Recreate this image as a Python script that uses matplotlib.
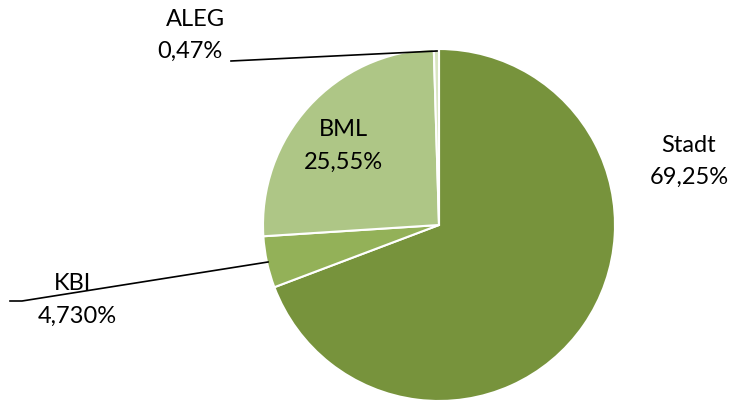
import numpy as np
import matplotlib.pyplot as plt

# Anteile der Finanzierung (in %)
labels = ["Stadt", "KBI", "BML", "ALEG"]
values = [69.25, 4.73, 25.55, 0.47]
value_text = ["69,25%", "4,730%", "25,55%", "0,47%"]
colors = ["#77933C", "#93B158", "#AEC686", "#D9E5C1"]

plt.rcParams['font.family'] = ['Lato', 'DejaVu Sans']

W, H = 730, 405
fig = plt.figure(figsize=(W / 100, H / 100), dpi=100)
ax = fig.add_axes([0, 0, 1, 1])
ax.set_xlim(0, W)
ax.set_ylim(0, H)
ax.set_aspect('equal')
ax.axis('off')

cx, cy, r = 439, H - 225, 176
wedges, _ = ax.pie(values, colors=colors, startangle=90, counterclock=False,
                   center=(cx, cy), radius=r,
                   wedgeprops=dict(edgecolor='white', linewidth=1.5))
ax.set_xlim(0, W)
ax.set_ylim(0, H)

fs = 17
# Stadt
ax.text(689, H - 145, labels[0], ha='center', va='center', fontsize=fs)
ax.text(689, H - 177, value_text[0], ha='center', va='center', fontsize=fs)
# BML (inside)
ax.text(343, H - 130, labels[2], ha='center', va='center', fontsize=fs)
ax.text(343, H - 162, value_text[2], ha='center', va='center', fontsize=fs)
# ALEG
ax.text(195, H - 20, labels[3], ha='center', va='center', fontsize=fs)
ax.text(190, H - 51, value_text[3], ha='center', va='center', fontsize=fs)
ax.plot([231, 437], [H - 61, H - 51], color='black', lw=1.2)
# KBI
ax.text(73, H - 284, labels[1], ha='center', va='center', fontsize=fs)
ax.text(77, H - 316, value_text[1], ha='center', va='center', fontsize=fs)
ax.plot([10, 22, 268], [H - 301, H - 301, H - 262], color='black', lw=1.2)

fig.savefig('out.png', dpi=100)
